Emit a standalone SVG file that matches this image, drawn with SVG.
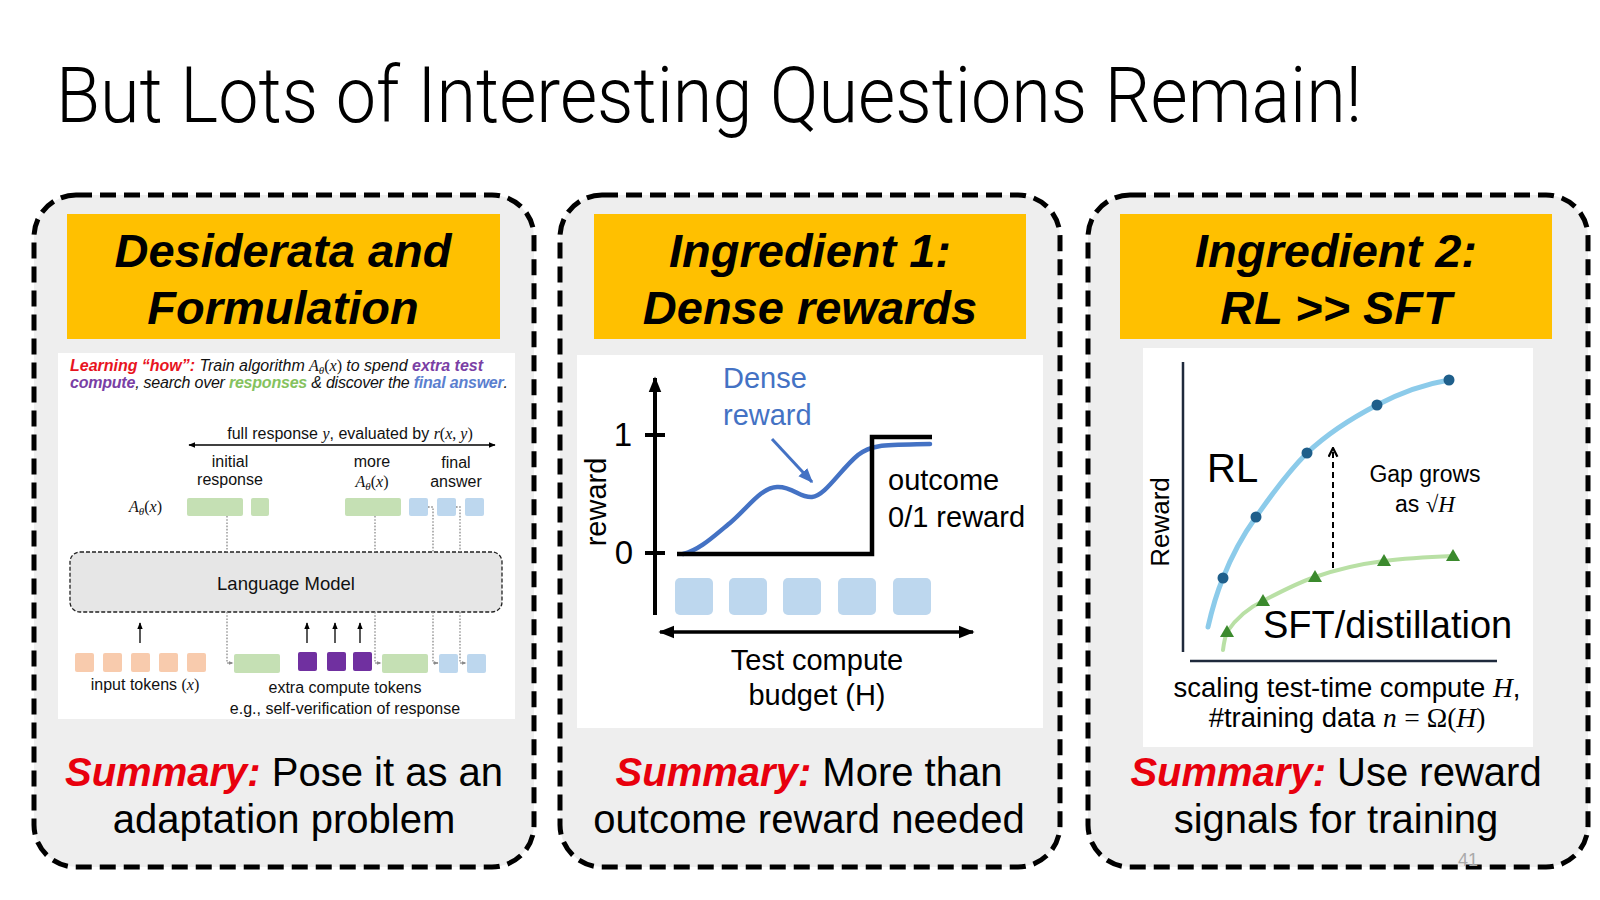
<svg xmlns="http://www.w3.org/2000/svg" width="1600" height="900" viewBox="0 0 1600 900">
<defs>
<style>
.sans{font-family:"Liberation Sans",Arial,sans-serif}
.panel{fill:#eeeeee;stroke:#000;stroke-width:5;stroke-dasharray:16 8}
.hdr{fill:#ffc000}
.hdrt{font-family:"Liberation Sans",Arial,sans-serif;font-weight:bold;font-style:italic;font-size:47px;fill:#000;text-anchor:middle}
.sum{font-family:"Liberation Sans",Arial,sans-serif;font-size:40px;fill:#000;text-anchor:middle}
.red{fill:#e8000d;font-weight:bold;font-style:italic}
.inset{fill:#ffffff}
.t15{font-family:"Liberation Sans",Arial,sans-serif;font-size:16px;fill:#111}
.mi{font-family:"Liberation Serif","Times New Roman",serif;font-style:italic}
.mu{font-family:"Liberation Serif","Times New Roman",serif;font-style:normal}
.dot{fill:none;stroke:#8a8a8a;stroke-width:1.3;stroke-dasharray:1.6 1.6}
.gbox{fill:#c5e0b4}
.bbox{fill:#bdd7ee}
.obox{fill:#f8cbad}
.pbox{fill:#7030a0}
.t29{font-family:"Liberation Sans",Arial,sans-serif;font-size:29px;fill:#000}
.blk{fill:none;stroke:#000}
</style>
<marker id="ah-sm" viewBox="0 0 10 10" refX="9" refY="5" markerWidth="7" markerHeight="7" markerUnits="userSpaceOnUse" orient="auto-start-reverse"><path d="M0,1 L10,5 L0,9 z" fill="#000"/></marker>
<marker id="ah-gray" viewBox="0 0 10 10" refX="9" refY="5" markerWidth="5" markerHeight="5" markerUnits="userSpaceOnUse" orient="auto"><path d="M0,1 L10,5 L0,9 z" fill="#8a8a8a"/></marker>
<marker id="ah-big" viewBox="0 0 10 10" refX="9" refY="5" markerWidth="16" markerHeight="16" markerUnits="userSpaceOnUse" orient="auto-start-reverse"><path d="M0,1 L10,5 L0,9 z" fill="#000"/></marker>
<marker id="ah-blue" viewBox="0 0 10 10" refX="9" refY="5" markerWidth="15" markerHeight="15" markerUnits="userSpaceOnUse" orient="auto"><path d="M0,1 L10,5 L0,9 z" fill="#4472c4"/></marker>
<marker id="ah-open" viewBox="0 0 10 10" refX="9" refY="5" markerWidth="11" markerHeight="11" markerUnits="userSpaceOnUse" orient="auto"><path d="M1,1 L9,5 L1,9" fill="none" stroke="#000" stroke-width="2"/></marker>
<path id="tri" d="M0,-7 L7,5 L-7,5 Z" fill="#3b8a2d"/>
</defs>

<rect width="1600" height="900" fill="#ffffff"/>

<text id="title" x="56" y="122" font-family="Roboto,'Liberation Sans',Arial,sans-serif" font-size="77" font-weight="300" textLength="1306" lengthAdjust="spacingAndGlyphs" fill="#000">But Lots of Interesting Questions Remain!</text>

<!-- Panel 1 -->
<g id="panel-1">
<rect class="panel" x="34" y="195" width="500" height="672" rx="42"/>
<rect class="hdr" x="67" y="214" width="433" height="125"/>
<text class="hdrt" x="283" y="267">Desiderata and</text>
<text class="hdrt" x="283" y="324">Formulation</text>
<rect class="inset" x="58" y="353" width="457" height="366"/>
<text class="t15" x="70" y="371" font-style="italic" textLength="413"><tspan font-weight="bold" fill="#e8141e">Learning “how”:</tspan> Train algorithm <tspan class="mi">A</tspan><tspan class="mi" font-size="11" dy="3">θ</tspan><tspan class="mu" font-style="normal" dy="-3">(</tspan><tspan class="mi">x</tspan><tspan class="mu" font-style="normal">)</tspan> to spend <tspan font-weight="bold" fill="#7a3fa5">extra test</tspan></text>
<text class="t15" x="70" y="388" font-style="italic" textLength="438"><tspan font-weight="bold" fill="#7a3fa5">compute</tspan>, search over <tspan font-weight="bold" fill="#85c25e">responses</tspan> &amp; discover the <tspan font-weight="bold" fill="#5b80cf">final answer</tspan>.</text>
<text class="t15" x="350" y="439" text-anchor="middle">full response <tspan class="mi">y</tspan>, evaluated by <tspan class="mi">r</tspan><tspan class="mu">(</tspan><tspan class="mi">x</tspan><tspan class="mu">, </tspan><tspan class="mi">y</tspan><tspan class="mu">)</tspan></text>
<text class="t15" x="230" y="467" text-anchor="middle">initial</text>
<text class="t15" x="230" y="485" text-anchor="middle">response</text>
<text class="t15" x="372" y="467" text-anchor="middle">more</text>
<text class="t15" x="372" y="487" text-anchor="middle"><tspan class="mi">A</tspan><tspan class="mi" font-size="11" dy="3">θ</tspan><tspan class="mu" dy="-3">(</tspan><tspan class="mi">x</tspan><tspan class="mu">)</tspan></text>
<text class="t15" x="456" y="468" text-anchor="middle">final</text>
<text class="t15" x="456" y="487" text-anchor="middle">answer</text>
<text class="t15" x="129" y="512"><tspan class="mi">A</tspan><tspan class="mi" font-size="11" dy="3">θ</tspan><tspan class="mu" dy="-3">(</tspan><tspan class="mi">x</tspan><tspan class="mu">)</tspan></text>
<rect class="gbox" x="187" y="498" width="56" height="18" rx="2"/>
<rect class="gbox" x="251" y="498" width="18" height="18" rx="2"/>
<rect class="gbox" x="345" y="498" width="56" height="18" rx="2"/>
<rect class="bbox" x="409" y="498" width="19" height="18" rx="2"/>
<rect class="bbox" x="437" y="498" width="19" height="18" rx="2"/>
<rect class="bbox" x="465" y="498" width="19" height="18" rx="2"/>
<rect x="70" y="552" width="432" height="60" rx="10" fill="#e6e6e6" stroke="#222" stroke-width="1.3" stroke-dasharray="4 2"/>
<text class="sans" x="286" y="590" font-size="18.5" text-anchor="middle" fill="#111">Language Model</text>
<rect class="obox" x="75" y="653" width="19" height="19" rx="2"/>
<rect class="obox" x="103" y="653" width="19" height="19" rx="2"/>
<rect class="obox" x="131" y="653" width="19" height="19" rx="2"/>
<rect class="obox" x="159" y="653" width="19" height="19" rx="2"/>
<rect class="obox" x="187" y="653" width="19" height="19" rx="2"/>
<rect class="gbox" x="234" y="654" width="46" height="19" rx="2"/>
<rect class="pbox" x="298" y="652" width="19" height="19" rx="2"/>
<rect class="pbox" x="327" y="652" width="19" height="19" rx="2"/>
<rect class="pbox" x="353" y="652" width="19" height="19" rx="2"/>
<rect class="gbox" x="382" y="654" width="46" height="19" rx="2"/>
<rect class="bbox" x="439" y="654" width="19" height="19" rx="2"/>
<rect class="bbox" x="467" y="654" width="19" height="19" rx="2"/>
<text class="t15" x="145" y="690" text-anchor="middle">input tokens <tspan class="mu">(</tspan><tspan class="mi">x</tspan><tspan class="mu">)</tspan></text>
<text class="t15" x="345" y="693" text-anchor="middle">extra compute tokens</text>
<text class="t15" x="345" y="714" text-anchor="middle">e.g., self-verification of response</text>
<text class="sum" x="284" y="786"><tspan class="red">Summary:</tspan> Pose it as an</text>
<text class="sum" x="284" y="833">adaptation problem</text>
</g>

<!-- Panel 2 -->
<g id="panel-2">
<rect class="panel" x="560" y="195" width="500" height="672" rx="42"/>
<rect class="hdr" x="594" y="214" width="432" height="125"/>
<text class="hdrt" x="810" y="267">Ingredient 1:</text>
<text class="hdrt" x="810" y="324">Dense rewards</text>
<rect class="inset" x="577" y="355" width="466" height="373"/>
<text class="sans" x="632" y="446" font-size="33" text-anchor="end">1</text>
<text class="sans" x="633" y="564" font-size="33" text-anchor="end">0</text>
<text class="t29" transform="translate(606,502) rotate(-90)" text-anchor="middle">reward</text>
<line class="blk" x1="645" y1="435" x2="665" y2="435" stroke-width="4"/>
<line class="blk" x1="645" y1="553" x2="665" y2="553" stroke-width="4"/>
<rect class="bbox" x="675" y="578" width="38" height="37" rx="5"/>
<rect class="bbox" x="729" y="578" width="38" height="37" rx="5"/>
<rect class="bbox" x="783" y="578" width="38" height="37" rx="5"/>
<rect class="bbox" x="838" y="578" width="38" height="37" rx="5"/>
<rect class="bbox" x="893" y="578" width="38" height="37" rx="5"/>
<path d="M683,554 C700,550 715,535 730,523 C748,508 760,488 777,487 C792,486 800,498 812,497 C825,496 840,470 858,455 C872,444 885,445 930,444" fill="none" stroke="#4472c4" stroke-width="4.5" stroke-linecap="round"/>
<path class="blk" d="M677,554 H872 V437 H932" stroke-width="4.5"/>
<text x="723" y="388" class="t29" style="fill:#4472c4">Dense</text>
<text x="723" y="425" class="t29" style="fill:#4472c4">reward</text>
<text x="888" y="490" class="t29">outcome</text>
<text x="888" y="527" class="t29">0/1 reward</text>
<text x="817" y="670" class="t29" text-anchor="middle">Test compute</text>
<text x="817" y="705" class="t29" text-anchor="middle">budget (H)</text>
<text class="sum" x="809" y="786"><tspan class="red">Summary:</tspan> More than</text>
<text class="sum" x="809" y="833">outcome reward needed</text>
</g>

<!-- Panel 3 -->
<g id="panel-3">
<rect class="panel" x="1088" y="195" width="500" height="672" rx="42"/>
<rect class="hdr" x="1120" y="214" width="432" height="125"/>
<text class="hdrt" x="1336" y="267">Ingredient 2:</text>
<text class="hdrt" x="1336" y="324">RL &gt;&gt; SFT</text>
<rect class="inset" x="1143" y="348" width="390" height="399"/>
<line x1="1183" y1="362" x2="1183" y2="652" stroke="#1f2a3c" stroke-width="2.5"/>
<line x1="1190" y1="661" x2="1497" y2="661" stroke="#1f2a3c" stroke-width="2.5"/>
<text class="sans" transform="translate(1169,522) rotate(-90)" font-size="26" text-anchor="middle">Reward</text>
<path d="M1208,627 C1213,605 1218,590 1223,578 C1232,555 1243,535 1256,517 C1272,494 1288,472 1307,453 C1328,433 1352,418 1377,405 C1400,393 1425,384 1449,380" fill="none" stroke="#8ccbea" stroke-width="5" stroke-linecap="round"/>
<path d="M1223,650 C1224,642 1225,637 1227,632 C1237,617 1248,608 1263,601 C1280,592 1297,583 1315,577 C1338,569 1360,564 1384,561 C1408,558 1430,557 1453,556" fill="none" stroke="#b9e0a5" stroke-width="4" stroke-linecap="round"/>
<g fill="#1f5f8b">
<circle cx="1223" cy="578" r="5.5"/>
<circle cx="1256" cy="517" r="5.5"/>
<circle cx="1307" cy="453" r="5.5"/>
<circle cx="1377" cy="405" r="5.5"/>
<circle cx="1449" cy="380" r="5.5"/>
</g>
<use href="#tri" x="1227" y="632"/>
<use href="#tri" x="1263" y="601"/>
<use href="#tri" x="1315" y="577"/>
<use href="#tri" x="1384" y="561"/>
<use href="#tri" x="1453" y="556"/>
<text class="sans" x="1207" y="482" font-size="40">RL</text>
<text class="sans" x="1425" y="482" font-size="23" text-anchor="middle">Gap grows</text>
<text class="sans" x="1425" y="512" font-size="23" text-anchor="middle">as <tspan class="mu">√</tspan><tspan class="mi">H</tspan></text>
<text class="sans" x="1263" y="638" font-size="38">SFT/distillation</text>
<text class="sans" x="1347" y="697" font-size="27.5" text-anchor="middle">scaling test-time compute <tspan class="mi">H</tspan>,</text>
<text class="sans" x="1347" y="727" font-size="27.5" text-anchor="middle">#training data <tspan class="mi">n</tspan> <tspan class="mu">= Ω(</tspan><tspan class="mi">H</tspan><tspan class="mu">)</tspan></text>
<text class="sum" x="1336" y="786"><tspan class="red">Summary:</tspan> Use reward</text>
<text class="sum" x="1336" y="833">signals for training</text>
</g>

<!-- Connectors -->
<g id="connectors">
<line x1="189" y1="445" x2="495" y2="445" stroke="#000" stroke-width="1.3" marker-start="url(#ah-sm)" marker-end="url(#ah-sm)"/>
<path class="dot" d="M227,516 V552"/>
<path class="dot" d="M375,516 V552"/>
<path class="dot" d="M428,507 H433 V552"/>
<path class="dot" d="M456,507 H460 V552"/>
<path class="dot" d="M227,612 V663 H233" marker-end="url(#ah-gray)"/>
<path class="dot" d="M375,612 V663 H381" marker-end="url(#ah-gray)"/>
<path class="dot" d="M433,612 V663 H438" marker-end="url(#ah-gray)"/>
<path class="dot" d="M460,612 V663 H466" marker-end="url(#ah-gray)"/>
<line x1="140" y1="643" x2="140" y2="623" stroke="#000" stroke-width="1.3" marker-end="url(#ah-sm)"/>
<line x1="307" y1="643" x2="307" y2="623" stroke="#000" stroke-width="1.3" marker-end="url(#ah-sm)"/>
<line x1="335" y1="643" x2="335" y2="623" stroke="#000" stroke-width="1.3" marker-end="url(#ah-sm)"/>
<line x1="360" y1="643" x2="360" y2="623" stroke="#000" stroke-width="1.3" marker-end="url(#ah-sm)"/>
<line x1="655" y1="615" x2="655" y2="378" stroke="#000" stroke-width="4" marker-end="url(#ah-big)"/>
<line x1="660" y1="632" x2="973" y2="632" stroke="#000" stroke-width="3.5" marker-start="url(#ah-big)" marker-end="url(#ah-big)"/>
<line x1="772" y1="439" x2="812" y2="482" stroke="#4472c4" stroke-width="3" marker-end="url(#ah-blue)"/>
<line x1="1333" y1="568" x2="1333" y2="448" stroke="#000" stroke-width="2" stroke-dasharray="6 4" marker-end="url(#ah-open)"/>
</g>

<text id="page-number" x="1458" y="866" font-family="'Liberation Sans',Arial,sans-serif" font-size="18" fill="#aaaaaa">41</text>
</svg>
